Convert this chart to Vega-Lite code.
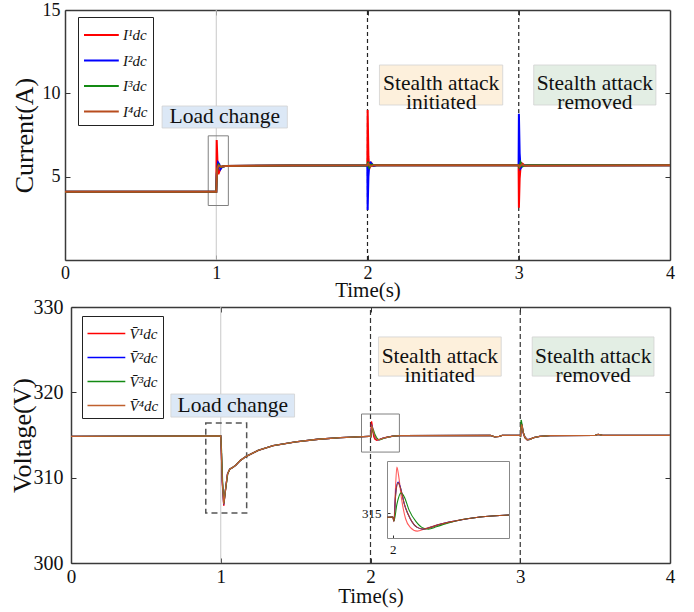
{
"$schema": "https://vega.github.io/schema/vega-lite/v6.json",
"autosize": {"type": "none"},
"padding": {"left": 65, "top": 10, "right": 24, "bottom": 49},
"width": 605,
"height": 553,
"config": {
  "font": "Liberation Serif",
  "view": {"stroke": null},
  "axis": {"domain": true, "domainColor": "#3a3a3a", "domainWidth": 1.5, "grid": false, "tickSize": -5, "tickColor": "#333", "tickWidth": 1, "labelPadding": 9, "labelFont": "Liberation Serif", "titleFont": "Liberation Serif", "titleFontWeight": "normal", "labelColor": "#111", "titleColor": "#111", "labelFlush": false, "labelOverlap": false},
  "legend": {"labelFont": "Liberation Serif", "labelFontStyle": "italic", "labelColor": "#111"}
},
"datasets": {
  "rules": [{"t": 1, "k": "load"}, {"t": 2, "k": "atk"}, {"t": 3, "k": "atk"}],
  "boxTop": [{"t0": 0.947, "t1": 1.08, "v0": 3.27, "v1": 7.45}],
  "boxBot": [{"t0": 0.9, "t1": 1.173, "v0": 305.86, "v1": 316.4, "k": "dash"}, {"t0": 1.94, "t1": 2.193, "v0": 313.0, "v1": 317.46, "k": "solid"}],
  "annTop": [
    {"kind": "load", "txt": "Load change", "t0": 0.642, "t1": 1.47, "v0": 7.92, "v1": 9.24, "tc": 1.056, "vc": 8.58},
    {"kind": "init", "txt": "Stealth attack\ninitiated", "t0": 2.079, "t1": 2.894, "v0": 9.3, "v1": 11.7, "tc": 2.487, "vc": 10.56},
    {"kind": "rem", "txt": "Stealth attack\nremoved", "t0": 3.099, "t1": 3.907, "v0": 9.3, "v1": 11.7, "tc": 3.503, "vc": 10.56}
  ],
  "annBot": [
    {"kind": "load", "txt": "Load change", "t0": 0.667, "t1": 1.493, "v0": 317.1, "v1": 319.8, "tc": 1.08, "vc": 318.45},
    {"kind": "init", "txt": "Stealth attack\ninitiated", "t0": 2.053, "t1": 2.873, "v0": 321.9, "v1": 326.49, "tc": 2.463, "vc": 324.14},
    {"kind": "rem", "txt": "Stealth attack\nremoved", "t0": 3.08, "t1": 3.893, "v0": 321.9, "v1": 326.49, "tc": 3.487, "vc": 324.14}
  ],
  "cur": [
    {"s":"1","t":0,"v":4.1},{"s":"1","t":0.999,"v":4.1},{"s":"1","t":1.0,"v":4.1},{"s":"1","t":1.003,"v":7.2},{"s":"1","t":1.008,"v":5.9},{"s":"1","t":1.014,"v":5.15},{"s":"1","t":1.022,"v":5.35},{"s":"1","t":1.035,"v":5.6},{"s":"1","t":1.06,"v":5.64},{"s":"1","t":1.5,"v":5.67},{"s":"1","t":1.999,"v":5.68},{"s":"1","t":2.001,"v":9.0},{"s":"1","t":2.006,"v":6.2},{"s":"1","t":2.012,"v":5.45},{"s":"1","t":2.018,"v":5.75},{"s":"1","t":2.025,"v":5.82},{"s":"1","t":2.035,"v":5.65},{"s":"1","t":2.06,"v":5.68},{"s":"1","t":2.999,"v":5.68},{"s":"1","t":3.001,"v":3.13},{"s":"1","t":3.006,"v":4.9},{"s":"1","t":3.012,"v":5.6},{"s":"1","t":3.02,"v":5.8},{"s":"1","t":3.028,"v":5.75},{"s":"1","t":3.04,"v":5.66},{"s":"1","t":3.06,"v":5.68},{"s":"1","t":4,"v":5.68},
    {"s":"2","t":0,"v":4.1},{"s":"2","t":0.999,"v":4.1},{"s":"2","t":1.0,"v":4.1},{"s":"2","t":1.004,"v":5.2},{"s":"2","t":1.012,"v":5.85},{"s":"2","t":1.02,"v":5.75},{"s":"2","t":1.028,"v":5.45},{"s":"2","t":1.04,"v":5.6},{"s":"2","t":1.06,"v":5.64},{"s":"2","t":1.5,"v":5.67},{"s":"2","t":1.999,"v":5.68},{"s":"2","t":2.001,"v":3.0},{"s":"2","t":2.006,"v":5.0},{"s":"2","t":2.012,"v":5.75},{"s":"2","t":2.02,"v":5.85},{"s":"2","t":2.028,"v":5.78},{"s":"2","t":2.04,"v":5.65},{"s":"2","t":2.06,"v":5.68},{"s":"2","t":2.999,"v":5.68},{"s":"2","t":3.001,"v":8.77},{"s":"2","t":3.006,"v":6.4},{"s":"2","t":3.012,"v":5.5},{"s":"2","t":3.02,"v":5.6},{"s":"2","t":3.03,"v":5.7},{"s":"2","t":3.05,"v":5.67},{"s":"2","t":4,"v":5.68},
    {"s":"3","t":0,"v":4.1},{"s":"3","t":0.999,"v":4.1},{"s":"3","t":1.0,"v":4.1},{"s":"3","t":1.005,"v":5.4},{"s":"3","t":1.015,"v":5.72},{"s":"3","t":1.03,"v":5.58},{"s":"3","t":1.06,"v":5.64},{"s":"3","t":1.5,"v":5.67},{"s":"3","t":1.999,"v":5.68},{"s":"3","t":2.004,"v":5.9},{"s":"3","t":2.012,"v":5.55},{"s":"3","t":2.025,"v":5.72},{"s":"3","t":2.05,"v":5.68},{"s":"3","t":2.999,"v":5.68},{"s":"3","t":3.004,"v":5.5},{"s":"3","t":3.012,"v":5.85},{"s":"3","t":3.025,"v":5.62},{"s":"3","t":3.05,"v":5.68},{"s":"3","t":4,"v":5.68},
    {"s":"4","t":0,"v":4.1},{"s":"4","t":0.999,"v":4.1},{"s":"4","t":1.0,"v":4.1},{"s":"4","t":1.006,"v":5.5},{"s":"4","t":1.016,"v":5.66},{"s":"4","t":1.03,"v":5.6},{"s":"4","t":1.06,"v":5.64},{"s":"4","t":1.5,"v":5.67},{"s":"4","t":1.999,"v":5.68},{"s":"4","t":2.006,"v":5.78},{"s":"4","t":2.02,"v":5.62},{"s":"4","t":2.04,"v":5.68},{"s":"4","t":2.999,"v":5.68},{"s":"4","t":3.006,"v":5.6},{"s":"4","t":3.02,"v":5.74},{"s":"4","t":3.04,"v":5.66},{"s":"4","t":4,"v":5.68}
  ],
  "volt": [
    {"s":"1","t":0,"v":314.85},{"s":"1","t":1.0,"v":314.9},{"s":"1","t":1.004,"v":313.0},{"s":"1","t":1.01,"v":309.5},{"s":"1","t":1.02,"v":306.7},{"s":"1","t":1.03,"v":308.3},{"s":"1","t":1.045,"v":310.4},{"s":"1","t":1.06,"v":311.0},{"s":"1","t":1.08,"v":311.2},{"s":"1","t":1.1,"v":311.45},{"s":"1","t":1.13,"v":312.0},{"s":"1","t":1.17,"v":312.5},{"s":"1","t":1.25,"v":313.2},{"s":"1","t":1.35,"v":313.75},{"s":"1","t":1.5,"v":314.2},{"s":"1","t":1.65,"v":314.5},{"s":"1","t":1.8,"v":314.7},{"s":"1","t":1.99,"v":314.85},{"s":"1","t":2.0,"v":314.86},{"s":"1","t":2.002,"v":314.7},{"s":"1","t":2.004,"v":315.6},{"s":"1","t":2.007,"v":316.6},{"s":"1","t":2.01,"v":316.3},{"s":"1","t":2.015,"v":315.5},{"s":"1","t":2.022,"v":314.8},{"s":"1","t":2.03,"v":314.5},{"s":"1","t":2.042,"v":314.37},{"s":"1","t":2.055,"v":314.45},{"s":"1","t":2.07,"v":314.55},{"s":"1","t":2.09,"v":314.65},{"s":"1","t":2.11,"v":314.74},{"s":"1","t":2.15,"v":314.86},{"s":"1","t":2.2,"v":314.93},{"s":"1","t":2.8,"v":314.95},{"s":"1","t":2.83,"v":314.78},{"s":"1","t":2.86,"v":314.85},{"s":"1","t":2.88,"v":314.95},{"s":"1","t":3.0,"v":314.95},{"s":"1","t":3.002,"v":314.8},{"s":"1","t":3.005,"v":315.7},{"s":"1","t":3.008,"v":316.3},{"s":"1","t":3.012,"v":316.0},{"s":"1","t":3.02,"v":315.2},{"s":"1","t":3.03,"v":314.7},{"s":"1","t":3.045,"v":314.45},{"s":"1","t":3.06,"v":314.5},{"s":"1","t":3.09,"v":314.7},{"s":"1","t":3.13,"v":314.85},{"s":"1","t":3.2,"v":314.93},{"s":"1","t":3.5,"v":314.95},{"s":"1","t":3.52,"v":315.08},{"s":"1","t":3.55,"v":314.95},{"s":"1","t":4,"v":314.95},
    {"s":"2","t":0,"v":314.85},{"s":"2","t":1.0,"v":314.9},{"s":"2","t":1.004,"v":313.1},{"s":"2","t":1.01,"v":309.7},{"s":"2","t":1.02,"v":306.85},{"s":"2","t":1.03,"v":308.4},{"s":"2","t":1.045,"v":310.45},{"s":"2","t":1.06,"v":311.0},{"s":"2","t":1.08,"v":311.2},{"s":"2","t":1.1,"v":311.45},{"s":"2","t":1.13,"v":312.0},{"s":"2","t":1.17,"v":312.5},{"s":"2","t":1.25,"v":313.2},{"s":"2","t":1.35,"v":313.75},{"s":"2","t":1.5,"v":314.2},{"s":"2","t":1.65,"v":314.5},{"s":"2","t":1.8,"v":314.7},{"s":"2","t":1.99,"v":314.85},{"s":"2","t":2.0,"v":314.86},{"s":"2","t":2.002,"v":314.72},{"s":"2","t":2.005,"v":315.7},{"s":"2","t":2.009,"v":316.08},{"s":"2","t":2.013,"v":315.9},{"s":"2","t":2.02,"v":315.3},{"s":"2","t":2.03,"v":314.8},{"s":"2","t":2.042,"v":314.5},{"s":"2","t":2.052,"v":314.44},{"s":"2","t":2.065,"v":314.5},{"s":"2","t":2.08,"v":314.6},{"s":"2","t":2.11,"v":314.73},{"s":"2","t":2.15,"v":314.86},{"s":"2","t":2.2,"v":314.93},{"s":"2","t":2.8,"v":314.95},{"s":"2","t":2.83,"v":314.78},{"s":"2","t":2.86,"v":314.85},{"s":"2","t":2.88,"v":314.95},{"s":"2","t":3.0,"v":314.95},{"s":"2","t":3.002,"v":314.8},{"s":"2","t":3.005,"v":315.8},{"s":"2","t":3.009,"v":316.3},{"s":"2","t":3.013,"v":316.0},{"s":"2","t":3.02,"v":315.3},{"s":"2","t":3.03,"v":314.8},{"s":"2","t":3.047,"v":314.45},{"s":"2","t":3.065,"v":314.5},{"s":"2","t":3.09,"v":314.68},{"s":"2","t":3.13,"v":314.85},{"s":"2","t":3.2,"v":314.93},{"s":"2","t":3.5,"v":314.95},{"s":"2","t":3.52,"v":315.08},{"s":"2","t":3.55,"v":314.95},{"s":"2","t":4,"v":314.95},
    {"s":"3","t":0,"v":314.85},{"s":"3","t":1.0,"v":314.9},{"s":"3","t":1.005,"v":313.2},{"s":"3","t":1.012,"v":309.6},{"s":"3","t":1.021,"v":307.0},{"s":"3","t":1.032,"v":308.6},{"s":"3","t":1.047,"v":310.5},{"s":"3","t":1.06,"v":311.0},{"s":"3","t":1.08,"v":311.2},{"s":"3","t":1.1,"v":311.45},{"s":"3","t":1.13,"v":312.0},{"s":"3","t":1.17,"v":312.5},{"s":"3","t":1.25,"v":313.2},{"s":"3","t":1.35,"v":313.75},{"s":"3","t":1.5,"v":314.2},{"s":"3","t":1.65,"v":314.5},{"s":"3","t":1.8,"v":314.7},{"s":"3","t":1.99,"v":314.85},{"s":"3","t":2.0,"v":314.86},{"s":"3","t":2.002,"v":314.72},{"s":"3","t":2.007,"v":315.3},{"s":"3","t":2.014,"v":315.7},{"s":"3","t":2.02,"v":315.55},{"s":"3","t":2.028,"v":315.1},{"s":"3","t":2.04,"v":314.7},{"s":"3","t":2.05,"v":314.5},{"s":"3","t":2.061,"v":314.44},{"s":"3","t":2.075,"v":314.52},{"s":"3","t":2.09,"v":314.62},{"s":"3","t":2.11,"v":314.73},{"s":"3","t":2.15,"v":314.86},{"s":"3","t":2.2,"v":314.93},{"s":"3","t":2.8,"v":314.95},{"s":"3","t":2.83,"v":314.78},{"s":"3","t":2.86,"v":314.85},{"s":"3","t":2.88,"v":314.95},{"s":"3","t":3.0,"v":314.95},{"s":"3","t":3.002,"v":314.75},{"s":"3","t":3.006,"v":316.76},{"s":"3","t":3.012,"v":316.2},{"s":"3","t":3.02,"v":315.3},{"s":"3","t":3.035,"v":314.6},{"s":"3","t":3.05,"v":314.45},{"s":"3","t":3.065,"v":314.5},{"s":"3","t":3.09,"v":314.68},{"s":"3","t":3.13,"v":314.85},{"s":"3","t":3.2,"v":314.93},{"s":"3","t":3.5,"v":314.95},{"s":"3","t":3.52,"v":315.08},{"s":"3","t":3.55,"v":314.95},{"s":"3","t":4,"v":314.95},
    {"s":"4","t":0,"v":314.85},{"s":"4","t":1.0,"v":314.9},{"s":"4","t":1.004,"v":313.1},{"s":"4","t":1.01,"v":309.7},{"s":"4","t":1.02,"v":306.9},{"s":"4","t":1.03,"v":308.4},{"s":"4","t":1.045,"v":310.45},{"s":"4","t":1.06,"v":311.0},{"s":"4","t":1.08,"v":311.2},{"s":"4","t":1.1,"v":311.45},{"s":"4","t":1.13,"v":312.0},{"s":"4","t":1.17,"v":312.5},{"s":"4","t":1.25,"v":313.2},{"s":"4","t":1.35,"v":313.75},{"s":"4","t":1.5,"v":314.2},{"s":"4","t":1.65,"v":314.5},{"s":"4","t":1.8,"v":314.7},{"s":"4","t":1.99,"v":314.85},{"s":"4","t":2.0,"v":314.86},{"s":"4","t":2.002,"v":314.72},{"s":"4","t":2.005,"v":315.65},{"s":"4","t":2.009,"v":316.05},{"s":"4","t":2.013,"v":315.88},{"s":"4","t":2.02,"v":315.3},{"s":"4","t":2.03,"v":314.8},{"s":"4","t":2.042,"v":314.5},{"s":"4","t":2.052,"v":314.44},{"s":"4","t":2.065,"v":314.5},{"s":"4","t":2.08,"v":314.6},{"s":"4","t":2.11,"v":314.73},{"s":"4","t":2.15,"v":314.86},{"s":"4","t":2.2,"v":314.93},{"s":"4","t":2.8,"v":314.95},{"s":"4","t":2.83,"v":314.78},{"s":"4","t":2.86,"v":314.85},{"s":"4","t":2.88,"v":314.95},{"s":"4","t":3.0,"v":314.95},{"s":"4","t":3.002,"v":314.8},{"s":"4","t":3.005,"v":315.75},{"s":"4","t":3.009,"v":316.25},{"s":"4","t":3.013,"v":316.0},{"s":"4","t":3.02,"v":315.3},{"s":"4","t":3.03,"v":314.8},{"s":"4","t":3.047,"v":314.45},{"s":"4","t":3.065,"v":314.5},{"s":"4","t":3.09,"v":314.68},{"s":"4","t":3.13,"v":314.85},{"s":"4","t":3.2,"v":314.93},{"s":"4","t":3.5,"v":314.95},{"s":"4","t":3.52,"v":315.08},{"s":"4","t":3.55,"v":314.95},{"s":"4","t":4,"v":314.95}
  ]
},
"layer": [
  {
    "layer": [
      {"data": {"name": "rules"}, "transform": [{"filter": "datum.k == 'load'"}], "mark": {"type": "rule", "color": "#c8c8c8", "strokeWidth": 1},
       "encoding": {"x": {"field": "t", "type": "quantitative", "scale": {"domain": [0, 4], "range": [0, 605], "nice": false}, "axis": {"orient": "top", "labels": false, "title": null, "values": [1, 2, 3]}},
                    "y": {"datum": 0, "type": "quantitative", "axis": null}, "y2": {"datum": 15}}},
      {"data": {"name": "rules"}, "transform": [{"filter": "datum.k == 'atk'"}], "mark": {"type": "rule", "color": "#222", "strokeWidth": 1.2, "strokeDash": [4, 3]},
       "encoding": {"x": {"field": "t", "type": "quantitative", "axis": null}, "y": {"datum": 0, "type": "quantitative", "axis": null}, "y2": {"datum": 15}}},
      {"data": {"name": "boxTop"}, "mark": {"type": "rect", "filled": false, "color": "#808080", "strokeWidth": 1},
       "encoding": {"x": {"field": "t0", "type": "quantitative", "axis": null}, "x2": {"field": "t1"},
                    "y": {"field": "v0", "type": "quantitative", "scale": {"domain": [0, 15], "range": [250, 0], "nice": false}, "axis": {"orient": "right", "labels": false, "title": null, "values": [5, 10]}}, "y2": {"field": "v1"}}},
      {"data": {"name": "annTop"}, "mark": {"type": "rect", "stroke": "#d2d2d2", "strokeWidth": 0.8},
       "encoding": {"x": {"field": "t0", "type": "quantitative", "axis": null}, "x2": {"field": "t1"},
                    "y": {"field": "v0", "type": "quantitative", "axis": null}, "y2": {"field": "v1"},
                    "fill": {"field": "kind", "type": "nominal", "scale": {"domain": ["load", "init", "rem"], "range": ["#dce8f6", "#fdf0dc", "#e3eee4"]}, "legend": null}}},
      {"data": {"name": "annTop"}, "mark": {"type": "text", "fontSize": 21.5, "lineBreak": "\n", "lineHeight": 19, "color": "#111", "baseline": "middle", "align": "center"},
       "encoding": {"x": {"field": "tc", "type": "quantitative", "axis": null}, "y": {"field": "vc", "type": "quantitative", "axis": null}, "text": {"field": "txt"}}},
      {"data": {"name": "cur"}, "mark": {"type": "line", "strokeWidth": 2},
       "encoding": {
         "x": {"field": "t", "type": "quantitative", "axis": {"orient": "bottom", "offset": -303, "values": [0, 1, 2, 3, 4], "title": "Time(s)", "labelFontSize": 18, "titleFontSize": 21, "titlePadding": -3}},
         "y": {"field": "v", "type": "quantitative", "axis": {"orient": "left", "values": [5, 10, 15], "title": "Current(A)", "labelFontSize": 18, "titleFontSize": 26, "labelPadding": 10, "titlePadding": 5}},
         "color": {"field": "s", "type": "nominal", "scale": {"domain": ["1", "2", "3", "4"], "range": ["#ff0000", "#0000ff", "#138a13", "#b84c1e"]},
                   "legend": {"orient": "none", "legendX": 13, "legendY": 7, "title": null, "strokeColor": "#222", "fillColor": "#ffffff", "padding": 5, "symbolType": "M-1,0H1.9", "symbolSize": 576, "symbolStrokeWidth": 2, "labelOffset": 14, "rowPadding": 4.5, "labelFontSize": 15,
                              "labelExpr": "'I' + (datum.label == '1' ? '¹' : datum.label == '2' ? '²' : datum.label == '3' ? '³' : '⁴') + 'dc'"}}
       }}
    ],
    "resolve": {"axis": {"x": "independent", "y": "independent"}}
  },
  {
    "layer": [
      {"data": {"name": "rules"}, "transform": [{"filter": "datum.k == 'load'"}], "mark": {"type": "rule", "color": "#c8c8c8", "strokeWidth": 1},
       "encoding": {"x": {"field": "t", "type": "quantitative", "scale": {"domain": [0, 4], "range": [6, 605], "nice": false}, "axis": {"orient": "top", "offset": -297, "labels": false, "title": null, "values": [1, 2, 3]}},
                    "y": {"datum": 300, "type": "quantitative", "axis": null}, "y2": {"datum": 330}}},
      {"data": {"name": "rules"}, "transform": [{"filter": "datum.k == 'atk'"}], "mark": {"type": "rule", "color": "#333", "strokeWidth": 1.2, "strokeDash": [5, 3]},
       "encoding": {"x": {"field": "t", "type": "quantitative", "axis": null}, "y": {"datum": 300, "type": "quantitative", "axis": null}, "y2": {"datum": 330}}},
      {"data": {"name": "boxBot"}, "transform": [{"filter": "datum.k == 'dash'"}], "mark": {"type": "rect", "filled": false, "color": "#555", "strokeWidth": 1.5, "strokeDash": [6, 4]},
       "encoding": {"x": {"field": "t0", "type": "quantitative", "axis": null}, "x2": {"field": "t1"},
                    "y": {"field": "v0", "type": "quantitative", "scale": {"domain": [300, 330], "range": [553, 297], "nice": false, "zero": false}, "axis": {"orient": "right", "labels": false, "title": null, "values": [310, 320]}}, "y2": {"field": "v1"}}},
      {"data": {"name": "boxBot"}, "transform": [{"filter": "datum.k == 'solid'"}], "mark": {"type": "rect", "filled": false, "color": "#808080", "strokeWidth": 1},
       "encoding": {"x": {"field": "t0", "type": "quantitative", "axis": null}, "x2": {"field": "t1"},
                    "y": {"field": "v0", "type": "quantitative", "axis": null}, "y2": {"field": "v1"}}},
      {"data": {"name": "annBot"}, "mark": {"type": "rect", "stroke": "#d2d2d2", "strokeWidth": 0.8},
       "encoding": {"x": {"field": "t0", "type": "quantitative", "axis": null}, "x2": {"field": "t1"},
                    "y": {"field": "v0", "type": "quantitative", "axis": null}, "y2": {"field": "v1"},
                    "fill": {"field": "kind", "type": "nominal", "scale": {"domain": ["load", "init", "rem"], "range": ["#dce8f6", "#fdf0dc", "#e3eee4"]}, "legend": null}}},
      {"data": {"name": "annBot"}, "mark": {"type": "text", "fontSize": 21.5, "lineBreak": "\n", "lineHeight": 19, "color": "#111", "baseline": "middle", "align": "center"},
       "encoding": {"x": {"field": "tc", "type": "quantitative", "axis": null}, "y": {"field": "vc", "type": "quantitative", "axis": null}, "text": {"field": "txt"}}},
      {"data": {"name": "volt"}, "mark": {"type": "line", "strokeWidth": 1.3},
       "encoding": {
         "x": {"field": "t", "type": "quantitative", "axis": {"orient": "bottom", "values": [0, 1, 2, 3, 4], "title": "Time(s)", "labelFontSize": 19, "titleFontSize": 21, "titlePadding": -1}},
         "y": {"field": "v", "type": "quantitative", "axis": {"orient": "left", "offset": -6, "values": [300, 310, 320, 330], "title": "Voltage(V)", "labelFontSize": 20, "titleFontSize": 26, "labelPadding": 13, "titlePadding": -2}},
         "color": {"field": "s", "type": "nominal", "scale": {"domain": ["1", "2", "3", "4"], "range": ["#ff0000", "#0000ff", "#138a13", "#c0602e"]},
                   "legend": {"orient": "none", "legendX": 17, "legendY": 306, "title": null, "strokeColor": "#222", "fillColor": "#ffffff", "padding": 4.5, "symbolType": "M-1,0H2.15", "symbolSize": 576, "symbolStrokeWidth": 1.3, "labelOffset": 17, "rowPadding": 3, "labelFontSize": 15,
                              "labelExpr": "'V̄' + (datum.label == '1' ? '¹' : datum.label == '2' ? '²' : datum.label == '3' ? '³' : '⁴') + 'dc'"}}
       }}
    ],
    "resolve": {"axis": {"x": "independent", "y": "independent"}}
  },
  {
    "data": {"name": "volt"},
    "transform": [{"filter": "datum.t >= 1.99 && datum.t <= 2.2"}],
    "layer": [
      {"mark": {"type": "line", "strokeWidth": 1.1, "interpolate": "monotone"},
       "encoding": {
         "x": {"field": "t", "type": "quantitative", "scale": {"domain": [1.99, 2.2], "range": [322, 444], "nice": false, "zero": false},
               "axis": {"orient": "bottom", "offset": -25, "values": [2], "format": "d", "title": null, "domainColor": "#888", "domainWidth": 1, "tickSize": -3, "labelPadding": 8, "labelFontSize": 13}},
         "y": {"field": "v", "type": "quantitative", "scale": {"domain": [314.13, 316.81], "range": [528, 451], "nice": false, "zero": false},
               "axis": {"orient": "left", "offset": -322, "values": [315], "format": "d", "title": null, "domainColor": "#888", "domainWidth": 1, "tickSize": -3, "labelPadding": 9, "labelFontSize": 13}},
         "color": {"field": "s", "type": "nominal", "scale": {"domain": ["1", "2", "3", "4"], "range": ["#ff5a5a", "#0000ff", "#138a13", "#b0451c"]}, "legend": null}
       }},
      {"mark": {"type": "point", "opacity": 0},
       "encoding": {
         "x": {"field": "t", "type": "quantitative", "axis": {"orient": "top", "offset": -451, "labels": false, "ticks": false, "title": null, "domainColor": "#888", "domainWidth": 1}},
         "y": {"field": "v", "type": "quantitative", "axis": {"orient": "right", "offset": -161, "labels": false, "ticks": false, "title": null, "domainColor": "#888", "domainWidth": 1}}
       }}
    ],
    "resolve": {"axis": {"x": "independent", "y": "independent"}}
  }
],
"resolve": {"scale": {"x": "independent", "y": "independent", "color": "independent"}, "axis": {"x": "independent", "y": "independent"}, "legend": {"color": "independent"}}
}
